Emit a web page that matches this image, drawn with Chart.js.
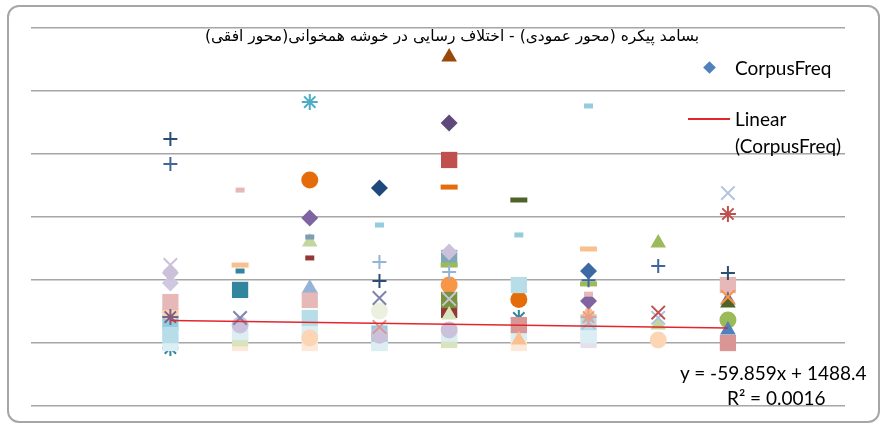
<!DOCTYPE html>
<html>
<head>
<meta charset="utf-8">
<script src="https://cdn.jsdelivr.net/npm/chart.js@4.4.1/dist/chart.umd.min.js"></script>
<style>
    html, body { margin: 0; padding: 0; background: #fff; }
    .wrap { position: relative; width: 885px; height: 426px; overflow: hidden; }
    .frame {
        position: absolute; left: 7px; top: 5px; width: 869px; height: 414px;
        border: 2px solid #a6a6a6; border-radius: 12px; pointer-events: none;
    }
    .txt { position: absolute; white-space: nowrap; color: #000; }
    .title {
        left: 132px; width: 640px; top: 25px; line-height: 22px; text-align: center;
        font-family: "DejaVu Sans", sans-serif; font-size: 15.5px;
    }
    .leg { font-family: Lato, "Open Sans", sans-serif; font-size: 19px; line-height: 22px; }
    .diamond {
        position: absolute; left: 705px; top: 63px; width: 9px; height: 9px;
        background: #4f81bd; transform: rotate(45deg);
    }
    .redline { position: absolute; left: 688px; top: 118px; width: 42px; height: 2px; background: #e2262e; }
</style>
</head>
<body>
<div class="wrap">
    <canvas id="chart" width="885" height="426"></canvas>
    <div class="frame"></div>
    <div class="txt title" dir="rtl">بسامد پیکره (محور عمودی) - اختلاف رسایی در خوشه همخوانی(محور افقی)</div>
    <div class="diamond"></div>
    <div class="txt leg" style="left:735px; top:57px;">CorpusFreq</div>
    <div class="redline"></div>
    <div class="txt leg" style="left:735px; top:108px;">Linear</div>
    <div class="txt leg" style="left:735px; top:135px;">(CorpusFreq)</div>
    <div class="txt leg" style="left:680px; top:362px;">y = -59.859x + 1488.4</div>
    <div class="txt leg" style="left:727px; top:387px;">R² = 0.0016</div>
</div>
<script>
// categories on the horizontal axis
const categories = [1, 2, 3, 4, 5, 6, 7, 8, 9];
const _ = null;

// trendline from the label on the chart
const trendSlope = -59.859;
const trendIntercept = 1488.4;

// series values, one entry per category (null = no point)
const plNavy       = [12950, _, _, 3940, _, _, _, _, 4440];
const plSteel      = [11370, _, _, _, _, _, 3990, 4890, _];
const plPale       = [_, _, _, 5140, 4510, _, _, _, _];
const stTeal       = [_, _, 15300, _, _, _, _, _, _];
const stDarkTeal   = [-320, _, _, _, _, 1590, _, _, _];
const stPurple     = [1650, _, _, _, _, _, _, _, _];
const stRed        = [_, _, _, _, _, _, _, _, 8190];
const stSalmon     = [_, _, _, _, _, _, 1650, _, _];
const xLavender    = [4950, _, _, _, 2800, _, _, _, _];
const xBlueGray    = [_, _, _, _, _, _, _, _, 9520];
const xSlate       = [_, 1590, _, 2860, _, _, _, _, _];
const xRed         = [_, _, _, _, _, _, _, 1930, _];
const xOrange      = [_, _, _, _, _, _, _, _, 2920];
const xPink        = [_, _, _, 1020, _, _, _, _, _];
const xLightBlue   = [_, _, _, _, _, _, 1300, 1600, _];
const sdPink       = [_, 9710, _, _, _, _, 3100, _, _];
const sdTeal       = [_, 4570, _, _, _, _, _, _, _];
const sdDarkRed    = [_, _, 5400, _, _, _, _, _, _];
const sdLightBlue  = [_, _, _, 7490, _, 6860, 15050, _, _];
const sdGrayBlue   = [_, _, 6730, _, _, _, _, _, _];
const ldOrangeDark = [_, _, _, _, 9900, _, _, _, _];
const ldOlive      = [_, _, _, _, _, 9080, _, _, _];
const ldGreen      = [_, _, _, _, 4950, _, 3750, _, _];
const ldOrange     = [_, 4950, _, _, _, _, 5970, _, _];
const dmNavy       = [_, _, _, 9840, _, _, _, _, _];
const dmBlue       = [_, _, _, _, _, _, 4570, _, _];
const dmPurple     = [_, _, 7940, _, _, _, 2670, _, _];
const dmDeepPurple = [_, _, _, _, 13970, _, _, _, _];
const dmLavender   = [4440, _, _, _, 5780, _, _, _, _];
const dmLavender2  = [3810, _, _, _, _, _, _, _, _];
const sqRed        = [_, _, _, _, 11620, _, _, _, _];
const ciOrangeDark = [_, _, 10350, _, _, 2760, _, _, _];
const ciOrange     = [_, _, _, _, 3680, _, _, _, _];
const ciGreen      = [_, _, _, _, _, _, _, _, 1460];
const ciPaleGreen  = [_, _, _, 2030, _, _, _, _, _];
const ciLavender   = [_, 1140, _, 500, 830, _, _, _, _];
const ciPeach      = [1970, _, 320, _, _, _, _, 190, _];
const trBrown      = [_, _, _, _, 18160, _, _, _, _];
const trGreen      = [_, _, _, _, _, _, _, 6350, _];
const trLightGreen = [_, _, 6410, _, _, _, _, 1140, _];
const trBlue       = [_, _, 3490, _, _, _, _, _, _];
const trSteel      = [_, _, _, _, _, _, _, _, 830];
const trPaleGreen  = [_, _, _, _, 1780, _, _, _, _];
const trPeach      = [_, _, _, _, _, 190, 1900, _, _];
const trDarkGreen  = [_, _, _, _, _, _, _, _, 2540];
const trPurple     = [_, _, _, _, _, _, _, _, 2730];
const sqTeal       = [_, 3370, _, _, _, _, _, _, _];
const sqTealGray   = [_, _, _, _, 5400, _, _, _, _];
const sqOlive      = [_, _, _, _, 2730, _, _, _, _];
const sqWine       = [_, _, _, _, 2100, _, _, _, _];
const sqPink       = [2600, _, 2730, _, _, _, _, _, 3680];
const sqRose       = [_, _, _, _, _, 1140, _, _, 0];
const sqLightTeal  = [1270, _, _, 600, _, _, _, _, _];
const sqLightBlue  = [500, _, 1590, _, _, 3680, 1330, _, _];
const sqPaleBlue   = [0, 700, 830, 0, 600, 640, 500, _, _];
const sqPaleGreen  = [_, 300, _, _, 190, _, _, _, _];
const sqLavender   = [_, _, _, 250, _, _, 190, _, _];
const sqPeach      = [_, 0, 0, 0, _, 0, _, _, _];

// marker look for each series (first entries are drawn on top)
const seriesList = [
    ['CorpusFreq', dmBlue, 'diamond', '#3d6aa5'],
    ['plNavy', plNavy, 'plus', '#2c4d75'],
    ['plSteel', plSteel, 'plus', '#41679a'],
    ['plPale', plPale, 'plus', '#95b3d7'],
    ['stTeal', stTeal, 'star', '#4bacc6'],
    ['stPurple', stPurple, 'star', '#7f6084'],
    ['stRed', stRed, 'star', '#c0504d'],
    ['stSalmon', stSalmon, 'star', '#e6a08a'],
    ['xLavender', xLavender, 'x', '#ccc1da'],
    ['xBlueGray', xBlueGray, 'x', '#b3c3df'],
    ['xSlate', xSlate, 'x', '#7e84ab'],
    ['xRed', xRed, 'x', '#c0504d'],
    ['xOrange', xOrange, 'x', '#f79646'],
    ['xPink', xPink, 'x', '#d99694'],
    ['xLightBlue', xLightBlue, 'x', '#a9c4e0'],
    ['sdPink', sdPink, 'short', '#e6b9b8'],
    ['sdTeal', sdTeal, 'short', '#31859c'],
    ['sdDarkRed', sdDarkRed, 'short', '#953735'],
    ['sdLightBlue', sdLightBlue, 'short', '#93cddd'],
    ['sdGrayBlue', sdGrayBlue, 'short', '#7f9db5'],
    ['ldOrangeDark', ldOrangeDark, 'long', '#e46c0a'],
    ['ldOlive', ldOlive, 'long', '#4f6228'],
    ['ldGreen', ldGreen, 'long', '#9bbb59'],
    ['ldOrange', ldOrange, 'long', '#fabf8f'],
    ['dmNavy', dmNavy, 'diamond', '#1f497d'],
    ['dmPurple', dmPurple, 'diamond', '#8064a2'],
    ['dmDeepPurple', dmDeepPurple, 'diamond', '#5f497a'],
    ['dmLavender', dmLavender, 'diamond', '#ccc1da'],
    ['dmLavender2', dmLavender2, 'diamond', '#d0c8e0'],
    ['sqRed', sqRed, 'square', '#c0504d'],
    ['trBrown', trBrown, 'triangle', '#984807'],
    ['trGreen', trGreen, 'triangle', '#9bbb59'],
    ['trLightGreen', trLightGreen, 'triangle', '#c3d69b'],
    ['trBlue', trBlue, 'triangle', '#95b3d7'],
    ['trSteel', trSteel, 'triangle', '#4f81bd'],
    ['trPaleGreen', trPaleGreen, 'triangle', '#d7e4bd'],
    ['trPeach', trPeach, 'triangle', '#fabf8f'],
    ['trDarkGreen', trDarkGreen, 'triangle', '#4f6228'],
    ['trPurple', trPurple, 'triangle', '#8064a2'],
    ['sqTeal', sqTeal, 'square', '#31859c'],
    ['sqTealGray', sqTealGray, 'square', '#7fa7b5'],
    ['sqOlive', sqOlive, 'square', '#77933c'],
    ['sqWine', sqWine, 'square', '#953735'],
    ['sqPink', sqPink, 'square', '#e6b9b8'],
    ['sqRose', sqRose, 'square', '#d99694'],
    ['sqLightBlue', sqLightBlue, 'square', '#b7dee8'],
    ['ciOrangeDark', ciOrangeDark, 'circle', '#e46c0a'],
    ['ciOrange', ciOrange, 'circle', '#f79646'],
    ['ciGreen', ciGreen, 'circle', '#9bbb59'],
    ['ciPaleGreen', ciPaleGreen, 'circle', '#ebf1de'],
    ['ciLavender', ciLavender, 'circle', '#ccc1da'],
    ['ciPeach', ciPeach, 'circle', '#fcd5b5'],
    ['sqLightTeal', sqLightTeal, 'square', '#93cddd'],
    ['sqPaleBlue', sqPaleBlue, 'square', '#dbeef4'],
    ['sqPaleGreen', sqPaleGreen, 'square', '#d7e4bd'],
    ['sqLavender', sqLavender, 'square', '#e6e0ec'],
    ['sqPeach', sqPeach, 'square', '#fde9d9'],
    ['stDarkTeal', stDarkTeal, 'star', '#31859c']
];

// Chart.js point settings for each marker kind
const markerKinds = {
    diamond:  { pointStyle: 'rectRot',  radius: 8.5, line: 0 },
    square:   { pointStyle: 'rect',     radius: 11.5, line: 0 },
    circle:   { pointStyle: 'circle',   radius: 8.5, line: 0 },
    triangle: { pointStyle: 'triangle', radius: 9, line: 0 },
    plus:     { pointStyle: 'cross',    radius: 7, line: 2 },
    x:        { pointStyle: 'crossRot', radius: 9.5, line: 2 },
    star:     { pointStyle: 'star',     radius: 8, line: 2 },
    short:    { pointStyle: 'line',     radius: 4.5, line: 5 },
    long:     { pointStyle: 'line',     radius: 8.5, line: 5 }
};

function toPoints(values) {
    const pts = [];
    values.forEach((v, i) => {
        if (v !== null) pts.push({ x: categories[i], y: v });
    });
    return pts;
}

const datasets = [];

// Linear trendline over the category range
const xFirst = categories[0];
const xLast = categories[categories.length - 1];
datasets.push({
    label: 'Linear (CorpusFreq)',
    data: [
        { x: xFirst, y: trendSlope * xFirst + trendIntercept },
        { x: xLast, y: trendSlope * xLast + trendIntercept }
    ],
    showLine: true,
    borderColor: '#e2262e',
    borderWidth: 1.5,
    pointRadius: 0
});

seriesList.forEach(([name, values, kind, color]) => {
    const m = markerKinds[kind];
    const stroked = m.line > 0;
    datasets.push({
        label: name,
        data: toPoints(values),
        pointStyle: m.pointStyle,
        pointRadius: m.radius,
        pointHoverRadius: m.radius,
        backgroundColor: color,
        borderColor: color,
        pointBorderWidth: stroked ? m.line : 0,
        showLine: false
    });
});

new Chart(document.getElementById('chart'), {
    type: 'scatter',
    data: { datasets: datasets },
    options: {
        responsive: false,
        animation: false,
        layout: { padding: { left: 31, right: 40, top: 28, bottom: 20 } },
        plugins: {
            legend: { display: false },
            title: { display: false },
            tooltip: { enabled: false }
        },
        scales: {
            x: { type: 'linear', min: -1, max: 10.68, display: false },
            y: {
                min: -4000,
                max: 20000,
                ticks: { stepSize: 4000, display: false },
                grid: { color: '#a6a6a6', lineWidth: 1.5, drawTicks: false },
                border: { display: false }
            }
        }
    }
});
</script>
</body>
</html>
